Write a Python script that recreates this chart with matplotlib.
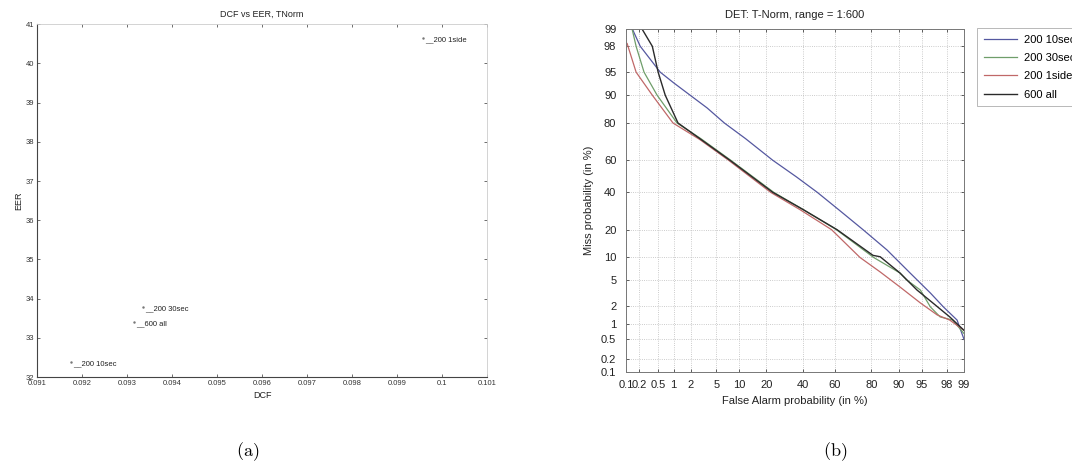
from statistics import NormalDist

import matplotlib
matplotlib.use('Agg')
import matplotlib.pyplot as plt
from matplotlib import ticker
import numpy as np


# (a) operating points: DCF vs EER after T-norm
point_names = ['200 10sec', '200 30sec', '600 all', '200 1side']
point_dcf = [0.09176, 0.09336, 0.09316, 0.09958]
point_eer = [32.38, 33.78, 33.40, 40.64]

# (b) DET curves, false alarm / miss probability in %
fa_10sec = [0.14, 0.21, 0.55, 1.0, 1.95, 3.66, 6.5, 12.0, 23.0, 36.0, 49.0, 63.0,
            76.0, 86.3, 92.8, 96.3, 97.7, 98.66, 99.0]
miss_10sec = [99.0, 98.0, 95.0, 93.0, 90.0, 86.0, 80.0, 72.4, 60.0, 49.6, 40.0, 29.5,
              20.0, 12.2, 6.35, 3.27, 1.96, 1.16, 0.5]

fa_30sec = [0.138, 0.17, 0.254, 0.476, 1.15, 2.9, 7.9, 23.5, 40.0, 61.0, 81.0, 90.3,
            92.0, 94.8, 96.3, 97.4, 98.4, 99.0]
miss_30sec = [99.0, 98.0, 95.0, 90.0, 80.0, 72.5, 60.0, 40.0, 30.0, 20.0, 10.0, 6.35,
              5.1, 3.63, 1.96, 1.32, 1.16, 0.65]

fa_1side = [0.106, 0.17, 0.38, 0.97, 2.8, 7.4, 22.0, 38.0, 58.0, 74.5, 83.7, 90.3,
            94.8, 97.1, 98.2, 99.0]
miss_1side = [98.2, 95.0, 90.0, 80.0, 72.0, 60.0, 40.0, 30.0, 20.0, 10.0, 6.55, 4.03,
              2.28, 1.43, 1.16, 0.75]

fa_all = [0.23, 0.38, 0.5, 0.69, 1.2, 2.85, 7.7, 23.0, 40.0, 61.4, 80.7, 83.7, 90.3,
          94.2, 96.6, 98.2, 99.0]
miss_all = [99.0, 98.0, 95.0, 90.0, 80.0, 72.3, 60.0, 40.0, 30.0, 20.0, 10.6, 10.2, 6.35,
            3.63, 2.28, 1.32, 0.75]

det_ticks = [0.1, 0.2, 0.5, 1, 2, 5, 10, 20, 40, 60, 80, 90, 95, 98, 99]
det_ticklabels = ['0.1', '0.2', '0.5', '1', '2', '5', '10', '20', '40', '60', '80',
                  '90', '95', '98', '99']

_nd = NormalDist()
_ppf = np.vectorize(_nd.inv_cdf, otypes=[float])
_cdf = np.vectorize(_nd.cdf, otypes=[float])


def probit(p):
  p = np.clip(np.asarray(p, dtype=float) / 100.0, 1e-9, 1 - 1e-9)
  return _ppf(p)


def inv_probit(z):
  return _cdf(np.asarray(z, dtype=float)) * 100.0


plt.rcParams['font.family'] = ['Liberation Sans', 'DejaVu Sans']
plt.rcParams['mathtext.fontset'] = 'cm'

fig = plt.figure(figsize=(10.72, 4.65), dpi=100)

# ---- (a) DCF vs EER
ax1 = fig.add_axes([0.0345, 0.189, 0.420, 0.759])
for name, d, e in zip(point_names, point_dcf, point_eer):
  ax1.plot(d, e, '.', color='#777777', markersize=1.5)
  ax1.annotate('__' + name, (d, e), xytext=(1.5, -1), textcoords='offset points',
               fontsize=5.5, va='center', ha='left', color='#222222')

ax1.set_xlim(0.091, 0.101)
ax1.set_ylim(32, 41)
ax1.set_xticks(np.arange(0.091, 0.1015, 0.001))
ax1.set_xticklabels(['0.091', '0.092', '0.093', '0.094', '0.095', '0.096', '0.097',
                     '0.098', '0.099', '0.1', '0.101'])
ax1.set_yticks(range(32, 42))
ax1.tick_params(direction='in', length=2.5, width=0.5, labelsize=5.5, colors='#333333',
                top=True, right=True, pad=2)
for side in ['top', 'right']:
  ax1.spines[side].set_color('#cccccc')
  ax1.spines[side].set_linewidth(0.6)
for side in ['left', 'bottom']:
  ax1.spines[side].set_color('#444444')
  ax1.spines[side].set_linewidth(0.8)
ax1.set_title('DCF vs EER, TNorm', fontsize=6.5, pad=5, color='#222222')
ax1.set_xlabel('DCF', fontsize=6.5, labelpad=3, color='#222222')
ax1.set_ylabel('EER', fontsize=6.5, labelpad=2, color='#222222')

# ---- (b) DET plot on normal deviate axes
ax2 = fig.add_axes([0.584, 0.2, 0.3153, 0.7376])
ax2.set_xscale('function', functions=(probit, inv_probit))
ax2.set_yscale('function', functions=(probit, inv_probit))

ax2.plot(fa_10sec, miss_10sec, color='#5558a0', lw=0.9, label='200 10sec')
ax2.plot(fa_30sec, miss_30sec, color='#6f9e6a', lw=0.9, label='200 30sec')
ax2.plot(fa_1side, miss_1side, color='#c06868', lw=0.9, label='200 1side')
ax2.plot(fa_all, miss_all, color='#2a2a2a', lw=1.0, label='600 all')

ax2.set_xlim(0.1, 99)
ax2.set_ylim(0.1, 99)
for axis in (ax2.xaxis, ax2.yaxis):
  axis.set_major_locator(ticker.FixedLocator(det_ticks))
  axis.set_major_formatter(ticker.FixedFormatter(det_ticklabels))
  axis.set_minor_locator(ticker.NullLocator())
ax2.grid(True, linestyle=':', color='#bbbbbb', linewidth=0.6)
ax2.tick_params(direction='in', length=2.5, width=0.5, labelsize=8, colors='#222222',
                top=True, right=True)
ax2.tick_params(axis='x', pad=6)
ax2.tick_params(axis='y', pad=7)
for side in ax2.spines:
  ax2.spines[side].set_color('#777777')
  ax2.spines[side].set_linewidth(0.7)
ax2.set_title('DET: T-Norm, range = 1:600', fontsize=8, pad=8, color='#222222')
ax2.set_xlabel('False Alarm probability (in %)', fontsize=8, labelpad=4, color='#222222')
ax2.set_ylabel('Miss probability (in %)', fontsize=8, labelpad=5, color='#222222')

leg = fig.legend(loc='upper left', bbox_to_anchor=(977 / 1072, 1 - 28 / 465),
                 borderaxespad=0, fontsize=8, frameon=True, fancybox=False,
                 handlelength=3.0, handletextpad=0.6, labelspacing=0.75,
                 borderpad=0.6)
leg.get_frame().set_edgecolor('#999999')
leg.get_frame().set_linewidth(0.6)

fig.text(248 / 1072, 1 - 452 / 465, r'$\mathrm{(a)}$', fontsize=13, ha='center',
         va='center')
fig.text(835 / 1072, 1 - 452 / 465, r'$\mathrm{(b)}$', fontsize=13, ha='center',
         va='center')

fig.savefig('out.png', dpi=100)
